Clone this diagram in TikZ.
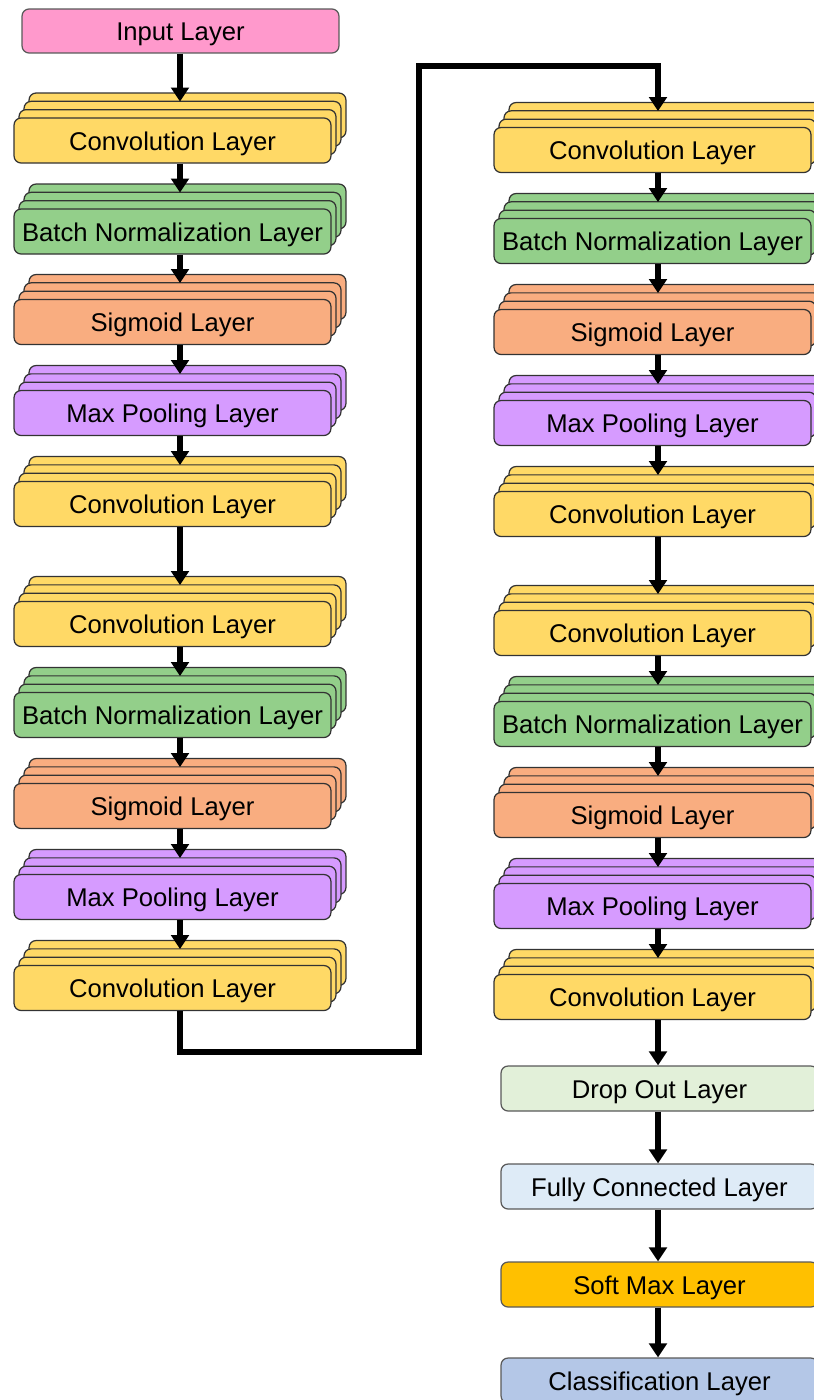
\documentclass[tikz,border=0pt]{standalone}
\usepackage{fontspec}
\setmainfont{Liberation Sans}
\usepackage{tikz}
\usetikzlibrary{arrows.meta,shadows}

\definecolor{inpink}{HTML}{FF99CC}
\definecolor{convyellow}{HTML}{FFD966}
\definecolor{bngreen}{HTML}{93CF8A}
\definecolor{sigorange}{HTML}{F9AD80}
\definecolor{poolpurple}{HTML}{D69BFF}
\definecolor{dropgreen}{HTML}{E2F0D9}
\definecolor{fcblue}{HTML}{DEEBF7}
\definecolor{softgold}{HTML}{FFC000}
\definecolor{clsblue}{HTML}{B4C7E7}

\tikzset{
  layerbox/.style={draw=black!80, line width=0.7pt, rounded corners=4pt, minimum width=6.34cm, minimum height=0.9cm, inner sep=0pt, text height=10.9pt, text depth=0pt, font=\fontsize{14.6}{17}\selectfont},
  stack/.style={layerbox, fill=#1,
    copy shadow={shadow xshift=0.3cm, shadow yshift=0.5cm, fill=#1, draw=black!80},
    copy shadow={shadow xshift=0.2cm, shadow yshift=0.333cm, fill=#1, draw=black!80},
    copy shadow={shadow xshift=0.1cm, shadow yshift=0.167cm, fill=#1, draw=black!80}},
  single/.style={layerbox, fill=#1, draw=black!65},
  flow/.style={line width=3.2pt, -{Triangle[width=10pt,length=8pt]}},
  intostack/.style={flow, shorten >=9pt}
}

\begin{document}
\begin{tikzpicture}[x=0.02cm,y=-0.02cm]
\useasboundingbox (0,0) rectangle (814,1400);

\coordinate (L) at (180,0);
\coordinate (R) at (658,0);
\coordinate (t1) at (419,1052);
\coordinate (t2) at (419,66);

\node [single=inpink, minimum height=0.88cm] (in) at (180.5,31) {Input Layer};

% left column
\node [stack=convyellow] (c1) at (172.5,140.5) {Convolution Layer};
\node [stack=bngreen] (b1) at (172.5,231.5) {Batch Normalization Layer};
\node [stack=sigorange] (s1) at (172.5,322) {Sigmoid Layer};
\node [stack=poolpurple] (m1) at (172.5,413) {Max Pooling Layer};
\node [stack=convyellow] (c2) at (172.5,504) {Convolution Layer};
\node [stack=convyellow] (c3) at (172.5,624) {Convolution Layer};
\node [stack=bngreen] (b2) at (172.5,715) {Batch Normalization Layer};
\node [stack=sigorange] (s2) at (172.5,806) {Sigmoid Layer};
\node [stack=poolpurple] (m2) at (172.5,897) {Max Pooling Layer};
\node [stack=convyellow] (c4) at (172.5,988) {Convolution Layer};

% right column
\node [stack=convyellow] (c5) at (652.5,150) {Convolution Layer};
\node [stack=bngreen] (b3) at (652.5,241) {Batch Normalization Layer};
\node [stack=sigorange] (s3) at (652.5,332) {Sigmoid Layer};
\node [stack=poolpurple] (m3) at (652.5,423) {Max Pooling Layer};
\node [stack=convyellow] (c6) at (652.5,514) {Convolution Layer};
\node [stack=convyellow] (c7) at (652.5,633) {Convolution Layer};
\node [stack=bngreen] (b4) at (652.5,724) {Batch Normalization Layer};
\node [stack=sigorange] (s4) at (652.5,815) {Sigmoid Layer};
\node [stack=poolpurple] (m4) at (652.5,906) {Max Pooling Layer};
\node [stack=convyellow] (c8) at (652.5,997) {Convolution Layer};

\node [single=dropgreen] (do) at (659.5,1088.5) {Drop Out Layer};
\node [single=fcblue] (fc) at (659.5,1186.5) {Fully Connected Layer};
\node [single=softgold] (sm) at (659.5,1284.5) {Soft Max Layer};
\node [single=clsblue] (cl) at (659.5,1380.5) {Classification Layer};

\foreach \a/\b in {in/c1, c1/b1, b1/s1, s1/m1, m1/c2, c2/c3, c3/b2, b2/s2, s2/m2, m2/c4}
  \draw [intostack] (\a.south -| L) -- (\b.north -| L);

\foreach \a/\b in {c5/b3, b3/s3, s3/m3, m3/c6, c6/c7, c7/b4, b4/s4, s4/m4, m4/c8}
  \draw [intostack] (\a.south -| R) -- (\b.north -| R);

\foreach \a/\b in {c8/do, do/fc, fc/sm, sm/cl}
  \draw [flow] (\a.south -| R) -- (\b.north -| R);

\draw [intostack] (c4.south -| L) |- (t1) -- (t2) -| (c5.north -| R);
\end{tikzpicture}
\end{document}
